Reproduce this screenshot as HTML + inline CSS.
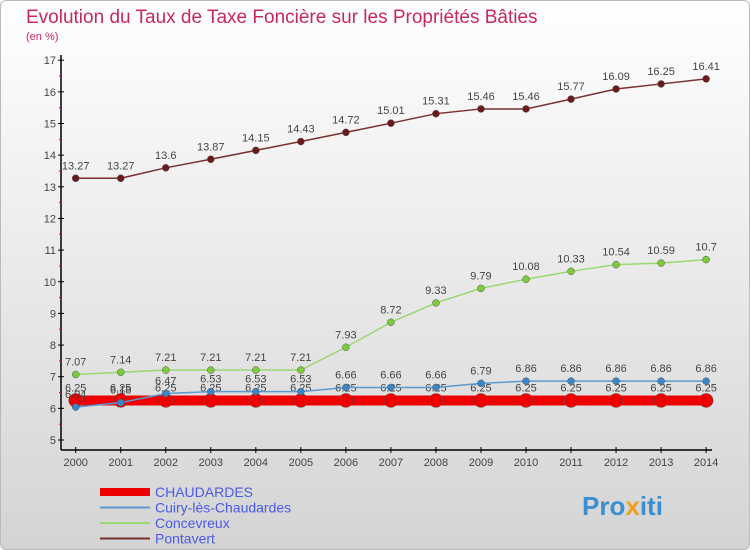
<!DOCTYPE html>
<html><head><meta charset="utf-8"><style>
body{margin:0;width:750px;height:550px;overflow:hidden;font-family:"Liberation Sans",sans-serif}
#wrap{position:absolute;left:0;top:0;width:748px;height:548px;border:1px solid #bbb;border-radius:6px;background:linear-gradient(#ffffff,#d4d4d4)}
</style></head><body>
<div id="wrap"></div>
<svg id="chart" width="750" height="550" style="position:absolute;left:0;top:0">
<text x="26" y="23" font-size="19" fill="#c8285a">Evolution du Taux de Taxe Foncière sur les Propriétés Bâties</text>
<text x="26" y="40" font-size="11" fill="#c8285a">(en %)</text>
<g id="axes"></g><g id="series"></g><g id="legend"></g>
<text x="582" y="515" font-size="26" font-weight="bold" fill="#3a8fd0">Pro<tspan fill="#f0a020">x</tspan>iti</text>
</svg>
<script>
const years=[2000,2001,2002,2003,2004,2005,2006,2007,2008,2009,2010,2011,2012,2013,2014];
const yTicks=[5,6,7,8,9,10,11,12,13,14,15,16,17];
const chaudardes=[6.25,6.25,6.25,6.25,6.25,6.25,6.25,6.25,6.25,6.25,6.25,6.25,6.25,6.25,6.25];
const cuiry=[6.04,6.18,6.47,6.53,6.53,6.53,6.66,6.66,6.66,6.79,6.86,6.86,6.86,6.86,6.86];
const concevreux=[7.07,7.14,7.21,7.21,7.21,7.21,7.93,8.72,9.33,9.79,10.08,10.33,10.54,10.59,10.7];
const pontavert=[13.27,13.27,13.6,13.87,14.15,14.43,14.72,15.01,15.31,15.46,15.46,15.77,16.09,16.25,16.41];
const NS="http://www.w3.org/2000/svg";
function X(i){return 75.7+i*45.03;}
function Y(v){return 440-(v-5)*31.65;}
function mk(tag,attrs,parent,txt){const e=document.createElementNS(NS,tag);for(const k in attrs)e.setAttribute(k,attrs[k]);if(txt!==undefined)e.textContent=txt;parent.appendChild(e);return e;}
const ax=document.getElementById('axes');
let e=mk('line',{x1:61,y1:55,x2:61,y2:450,stroke:'#000','stroke-width':1.5},ax);

e=mk('line',{x1:61,y1:450,x2:712,y2:450,stroke:'#000','stroke-width':1.5},ax);

yTicks.forEach(t=>{
 mk('line',{x1:58,y1:Y(t),x2:64,y2:Y(t),stroke:'#000'},ax);
 if(t<17)mk('line',{x1:59,y1:Y(t+0.5),x2:62,y2:Y(t+0.5),stroke:'#e00'},ax);
 e=mk('text',{x:56,y:Y(t)+4,'font-size':11,fill:'#444','text-anchor':'end'},ax,String(t));
 
});
years.forEach((yr,i)=>{
 mk('line',{x1:X(i),y1:447,x2:X(i),y2:453,stroke:'#000'},ax);
 e=mk('text',{x:X(i),y:466,'font-size':11,fill:'#444','text-anchor':'middle'},ax,String(yr));
 
});
const sg=document.getElementById('series');
function series(vals,color,dot,lw,r,name,labels){
 const g=mk('g',{},sg);
 
 mk('polyline',{points:vals.map((v,i)=>X(i)+','+Y(v)).join(' '),fill:'none',stroke:color,'stroke-width':lw},g);
 vals.forEach((v,i)=>{
  const c=mk('circle',{cx:X(i),cy:Y(v),r:r,fill:dot,stroke:'#555','stroke-width':0.5},g);
  
  if(labels){const t=mk('text',{x:X(i),y:Y(v)-9,'font-size':11,fill:'#444','text-anchor':'middle'},g,String(v));
  }
 });
}
series(pontavert,'#7a3030','#6a1a1a',1.5,3.5,'pontavert',true);
series(concevreux,'#9ad870','#7ccc3a',1.5,3.5,'concevreux',true);
series(chaudardes,'#ee0000','#ee0000',10,7,'chaudardes',true);
series(cuiry,'#5a9ad0','#3a86c8',1.5,3.5,'cuiry',true);
const lg=document.getElementById('legend');
const leg=[['CHAUDARDES','#ee0000',8],['Cuiry-lès-Chaudardes','#5a9ad0',2],['Concevreux','#9ad870',2],['Pontavert','#7a3030',2]];
leg.forEach((l,i)=>{
 const y=492+i*15.5;
 const g=mk('g',{},lg);
 
 mk('line',{x1:100,y1:y,x2:150,y2:y,stroke:l[1],'stroke-width':l[2]},g);
 mk('text',{x:155,y:y+5,'font-size':14,fill:'#4a5ae8'},g,l[0]);
});
</script>
</body></html>
